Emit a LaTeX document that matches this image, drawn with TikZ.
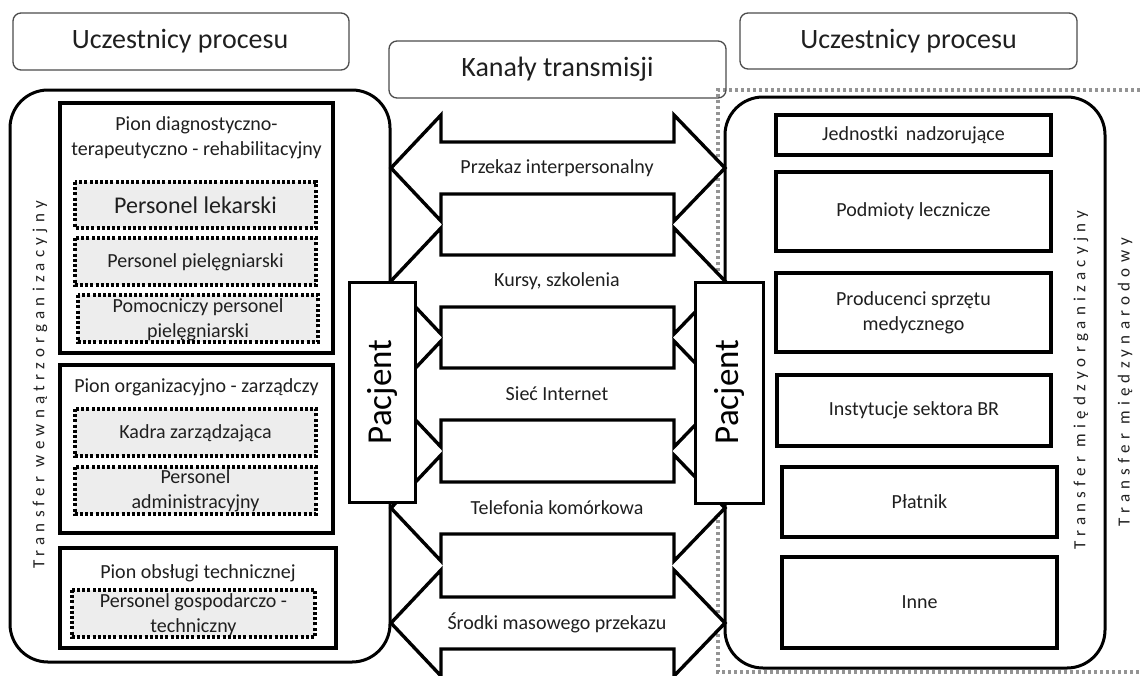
\documentclass[tikz,border=0pt]{standalone}
\usepackage{fontspec}
\setmainfont{Carlito}
\newfontfamily\spacedfont[LetterSpace=31]{Carlito}
\tikzset{
  panel/.style={draw, line width=3pt, rounded corners=38pt},
  header/.style={draw=black!70, line width=1.3pt, rounded corners=8pt},
  htext/.style={font=\fontsize{28}{32}\selectfont, text=black!88},
  unit/.style={draw, line width=3.6pt},
  dotbox/.style={draw, fill=black!7, line width=3.4pt, dash pattern=on 3pt off 2.2pt},
  chan/.style={draw, fill=white, line width=3.4pt, line join=miter},
  txt/.style={font=\fontsize{20}{25.5}\selectfont, align=center, text=black!88, inner sep=0pt},
  bigtxt/.style={font=\fontsize{24}{28}\selectfont, align=center, text=black!88, inner sep=0pt},
  pac/.style={draw, fill=white, line width=3pt},
  pactxt/.style={font=\fontsize{35}{40}\selectfont, rotate=90, inner sep=0pt},
  vtxt/.style={font=\spacedfont\fontsize{17}{20}\selectfont, rotate=90, inner sep=0pt, text=black!88},
}
\newcommand\chanarrow[3]{%
  \draw[chan] (391,#2) -- (441,#2-53) -- (441,#2-26) -- (674,#2-26) -- (674,#2-53)
    -- (725,#2) -- (674,#2+53) -- (674,#2+26) -- (441,#2+26) -- (441,#2+53) -- cycle;
  \node[txt] (#1) at (557,#2) {#3};}
\begin{document}
\begin{tikzpicture}[x=1pt,y=-1pt]
\useasboundingbox (0,0) rectangle (1140,675);
% international transfer frame
\draw[black!42, line width=3.2pt, dash pattern=on 3pt off 3pt] (1170,90) -- (718,90) -- (718,672) -- (1170,672);
% panels
\draw[panel] (10,90) rectangle (390,662);
\draw[panel] (725,97) rectangle (1105,668);
\coordinate (panelL) at (200,376);
\coordinate (panelR) at (915,382);
% headers
\draw[header] (13,13) rectangle (349,70);
\node[htext] (hL) at (180,41.5) {Uczestnicy procesu};
\draw[header] (389,41) rectangle (726,98);
\node[htext] (hC) at (557.5,69.5) {Kanały transmisji};
\draw[header] (740,13) rectangle (1077,69);
\node[htext] (hR) at (908.5,41) {Uczestnicy procesu};
% channel arrows
\chanarrow{a1}{168}{Przekaz interpersonalny}
\chanarrow{a2}{281}{Kursy, szkolenia}
\chanarrow{a3}{394}{Sieć Internet}
\chanarrow{a4}{508}{Telefonia komórkowa}
\chanarrow{a5}{623}{Środki masowego przekazu}
% patient boxes
\draw[pac] (349,282) rectangle (415,502);
\node[pactxt] (pL) at (382,392) {Pacjent};
\draw[pac] (695,282) rectangle (763,503);
\node[pactxt] (pR) at (729,392) {Pacjent};
% left units
\draw[unit] (60,103) rectangle (333,353);
\node[txt] (u1) at (196.5,138) {Pion diagnostyczno-\\terapeutyczno - rehabilitacyjny};
\draw[dotbox] (75,182) rectangle (316,228);
\node[bigtxt] (d1) at (195.5,205) {Personel lekarski};
\draw[dotbox] (75,238) rectangle (316,285);
\node[txt] (d2) at (195.5,262) {Personel pielęgniarski};
\draw[dotbox] (78,295) rectangle (318,342);
\node[txt] (d3) at (198,320) {Pomocniczy personel\\pielęgniarski};
\draw[unit] (60,365) rectangle (333,533);
\node[txt] (u2) at (196.5,387) {Pion organizacyjno - zarządczy};
\draw[dotbox] (75,409) rectangle (316,456);
\node[txt] (d4) at (195.5,433) {Kadra zarządzająca};
\draw[dotbox] (75,467) rectangle (316,514);
\node[txt] (d5) at (195.5,491) {Personel\\administracyjny};
\draw[unit] (60,548) rectangle (336,648);
\node[txt] (u3) at (198,573) {Pion obsługi technicznej};
\draw[dotbox] (72,590) rectangle (315,637);
\node[txt] (d6) at (193.5,614.5) {Personel gospodarczo -\\techniczny};
\node[vtxt] (tL) at (40,385) {Transfer wewnątrzorganizacyjny};
% right units
\draw[unit] (776,115) rectangle (1051,155);
\node[txt] (r1) at (913.5,135) {Jednostki\, nadzorujące};
\draw[unit] (776,172) rectangle (1051,251);
\node[txt] (r2) at (913.5,211.5) {Podmioty lecznicze};
\draw[unit] (776,273) rectangle (1051,352);
\node[txt] (r3) at (913.5,313) {Producenci sprzętu\\medycznego};
\draw[unit] (777,375) rectangle (1051,446);
\node[txt] (r4) at (914,410.5) {Instytucje sektora BR};
\draw[unit] (782,467) rectangle (1057,537);
\node[txt] (r5) at (919.5,502) {Płatnik};
\draw[unit] (782,557) rectangle (1057,648);
\node[txt] (r6) at (919.5,602.5) {Inne};
\node[vtxt] (tR1) at (1081,380) {Transfer międzyorganizacyjny};
\node[vtxt] (tR2) at (1125,382) {Transfer międzynarodowy};
\end{tikzpicture}
\end{document}
